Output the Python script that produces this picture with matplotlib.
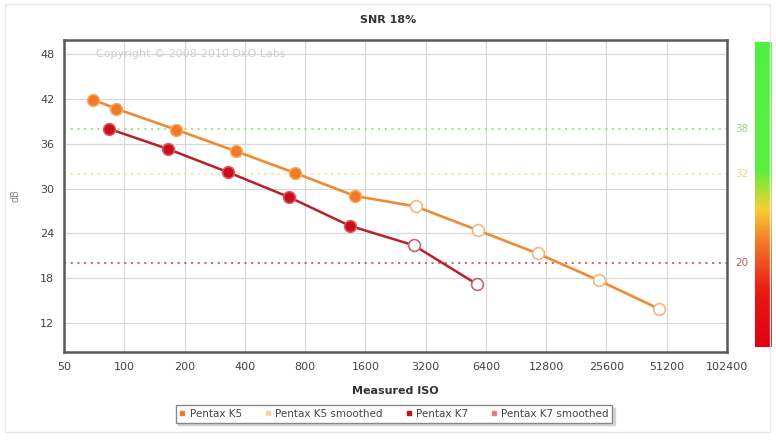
import numpy as np
import matplotlib
matplotlib.use("Agg")
import matplotlib.pyplot as plt
from matplotlib.colors import LinearSegmentedColormap
from matplotlib.lines import Line2D
from matplotlib.patches import Rectangle

k5_iso = [70, 91, 181, 361, 711, 1420, 2860, 5840, 11600, 23400, 46700]
k5_db = [41.9, 40.7, 37.9, 35.0, 32.1, 29.0, 27.6, 24.4, 21.3, 17.7, 13.9]
k5_measured = 6  # first points are filled, the rest hollow

k7_iso = [84, 165, 329, 665, 1340, 2790, 5760]
k7_db = [38.0, 35.3, 32.2, 28.85, 25.0, 22.4, 17.2]
k7_measured = 5

iso_ticks = [50, 100, 200, 400, 800, 1600, 3200, 6400, 12800, 25600, 51200, 102400]
db_ticks = [12, 18, 24, 30, 36, 42, 48]

thresholds = [38, 32, 20]
threshold_colors = ["#9be08a", "#f3e690", "#d65a66"]
label_colors = ["#9ccf8c", "#e8d98a", "#c8505c"]

legend_labels = ["Pentax K5", "Pentax K5 smoothed", "Pentax K7", "Pentax K7 smoothed"]
legend_colors = ["#f07a30", "#f6d2a8", "#c0101c", "#e87888"]

W, H = 776, 440


def main():
    fig = plt.figure(figsize=(W / 100, H / 100), dpi=100)
    fig.patch.set_facecolor("white")
    fig.patches.append(Rectangle((5 / W, 8 / H), 765 / W, 428 / H,
                                 transform=fig.transFigure, fill=False,
                                 edgecolor="#e6e6e6", lw=1))

    ax = fig.add_axes([64 / W, 1 - 352 / H, 663 / W, 312 / H])
    ax.set_xscale("log", base=2)
    ax.set_xlim(50, 102400)
    ax.set_ylim(8.1, 49.9)
    ax.set_xticks(iso_ticks)
    ax.set_xticklabels([str(t) for t in iso_ticks])
    ax.set_yticks(db_ticks)
    ax.minorticks_off()
    ax.tick_params(length=0, labelsize=8, labelcolor="#444444", pad=7)
    ax.grid(True, color="#d8d8d8", lw=0.9)
    ax.set_axisbelow(True)
    for s in ax.spines.values():
        s.set_color("#5a5a5a")
        s.set_linewidth(1.8)

    for y, c in zip(thresholds, threshold_colors):
        ax.axhline(y, color=c, ls=(0, (1.2, 2.5)), lw=1.3, zorder=1)
    for y, c in zip(thresholds, label_colors):
        ax.text(1.012, y, str(y), transform=ax.get_yaxis_transform(),
                color=c, fontsize=7.5, va="center", ha="left")

    ax.text(72, 48, "Copyright \u00a9 2008-2010 DxO Labs", fontsize=8,
            color="#cfcfcf", va="center", ha="left")

    # K5
    ax.plot(k5_iso, k5_db, color="#ee8a34", lw=1.9, zorder=3)
    ax.plot(k5_iso[:k5_measured], k5_db[:k5_measured], "o", ms=8.5,
            mfc="#f07a28", mec="#f6a860", mew=1.1, zorder=4)
    ax.plot(k5_iso[k5_measured:], k5_db[k5_measured:], "o",
            ms=8.5, mfc="white", mec="#f0b888", mew=1.2, zorder=4)

    # K7
    ax.plot(k7_iso, k7_db, color="#b8202a", lw=1.8, zorder=3)
    ax.plot(k7_iso[:k7_measured], k7_db[:k7_measured], "o", ms=8.5,
            mfc="#c8101c", mec="#e05a60", mew=1.1, zorder=4)
    ax.plot(k7_iso[k7_measured:], k7_db[k7_measured:], "o", ms=8.5,
            mfc="white", mec="#c06870", mew=1.2, zorder=4)

    ax.set_xlabel("Measured ISO", fontsize=8, fontweight="bold",
                  color="#333333", labelpad=10)
    ax.set_ylabel("dB", fontsize=7, color="#888888", labelpad=14)
    fig.text(0.5, 1 - 20 / H, "SNR 18%", fontsize=8, fontweight="bold",
             color="#333333", ha="center", va="center")

    # colour bar
    cax = fig.add_axes([755 / W, 1 - 347 / H, 17 / W, 305 / H])
    cmap = LinearSegmentedColormap.from_list(
        "snr", [(0.0, "#e00010"), (0.18, "#e81a10"), (0.34, "#f2782a"),
                (0.45, "#f7cf30"), (0.58, "#5af040"), (1.0, "#50f040")])
    grad = np.linspace(0, 1, 256)[:, None]
    cax.imshow(grad, aspect="auto", cmap=cmap, origin="lower")
    cax.set_axis_off()

    handles = [Line2D([], [], ls="none", marker="s", ms=3.5, mfc=c, mec=c)
               for c in legend_colors]
    leg = fig.legend(handles, legend_labels, ncol=4, loc="center",
                     bbox_to_anchor=(394 / W, 1 - 414 / H), fontsize=7.5,
                     frameon=True, shadow={"color": "#c8c8c8", "alpha": 0.7},
                     fancybox=False,
                     handlelength=0.6, handletextpad=0.4, columnspacing=2.2,
                     borderpad=0.35)
    leg.get_frame().set_edgecolor("#888888")
    leg.get_frame().set_linewidth(1.0)
    for t in leg.get_texts():
        t.set_color("#444444")

    fig.savefig("out.png", dpi=100)


if __name__ == "__main__":
    main()
